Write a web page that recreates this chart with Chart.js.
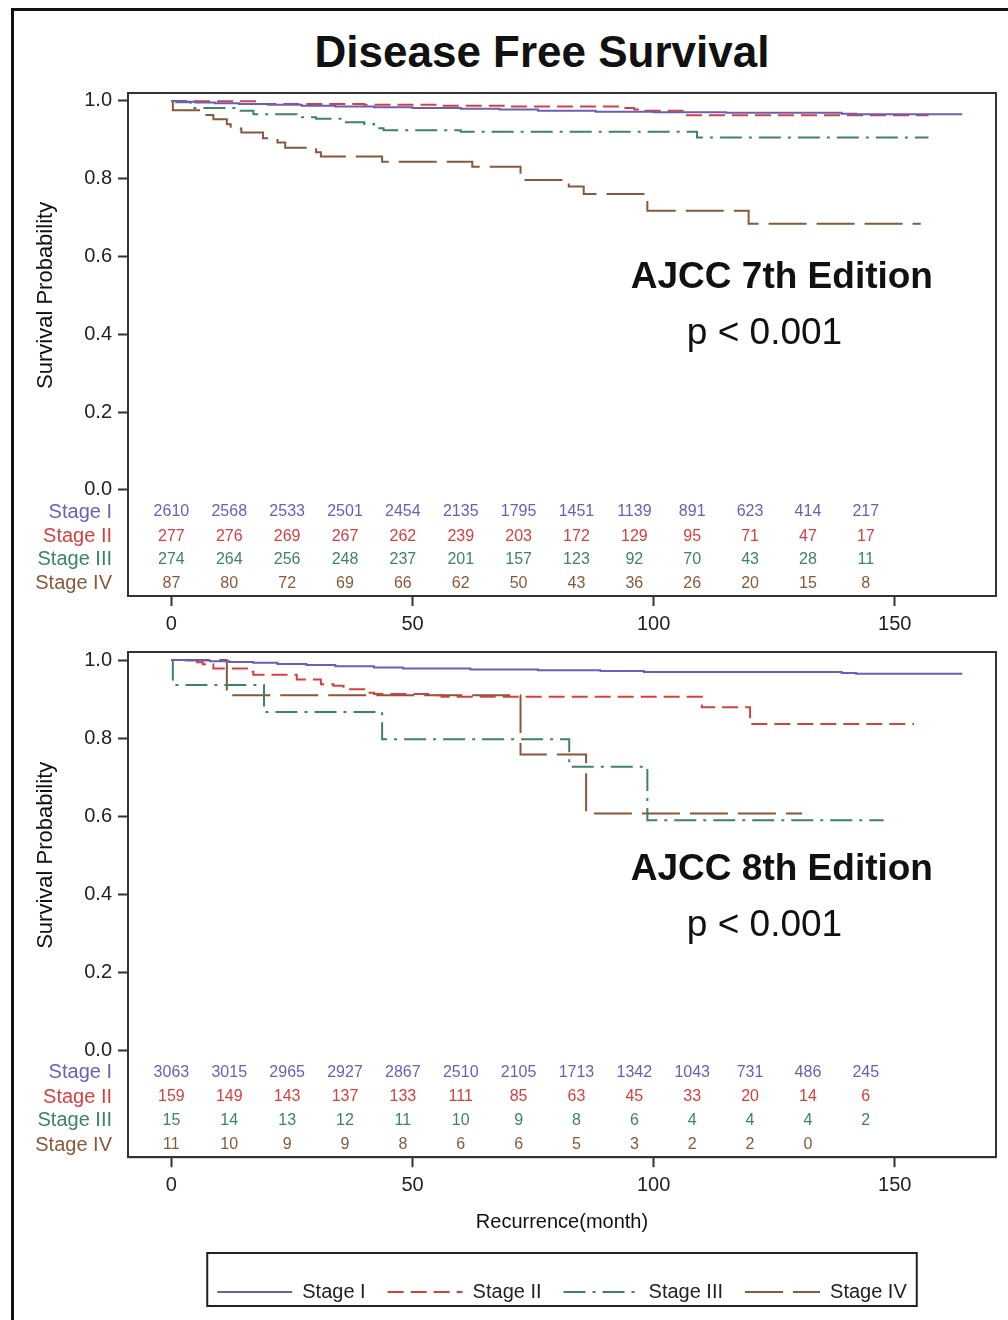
<!DOCTYPE html>
<html>
<head>
<meta charset="utf-8">
<script src="https://cdn.jsdelivr.net/npm/chart.js@4.4.1/dist/chart.umd.min.js"></script>
<style>
  body { margin: 0; background: #fff; }
  #page { position: relative; width: 1008px; height: 1320px; overflow: hidden; background: #fff; }
  #frame { position: absolute; left: 11px; top: 8px; width: 1100px; height: 1400px;
           border-left: 3px solid #111; border-top: 3px solid #111; }
  #title { position: absolute; left: 0; top: 26px; width: 1084px; margin: 0; text-align: center;
           font: bold 44px/52px "Liberation Sans", Arial, sans-serif; color: #111; }
  .panel { position: absolute; left: 0; width: 1008px; }
</style>
</head>
<body>
<div id="page">
  <div id="frame"></div>
  <h1 id="title">Disease Free Survival</h1>
  <div class="panel" style="top:75px;height:566px"><canvas id="km7" width="1008" height="566"></canvas></div>
  <div class="panel" style="top:634px;height:700px"><canvas id="km8" width="1008" height="700"></canvas></div>
</div>
<script>
// ---- data ----
const stageNames = ["Stage I", "Stage II", "Stage III", "Stage IV"];
const xTickValues = [0, 50, 100, 150];
const yTickValues = [0, 0.2, 0.4, 0.6, 0.8, 1.0];
const riskTimes = [0, 12, 24, 36, 48, 60, 72, 84, 96, 108, 120, 132, 144];

// AJCC 7th edition, [month, survival]
const ajcc7StageI = [[0, 1.0], [2, 0.998], [5, 0.996], [9, 0.994], [14, 0.992], [20, 0.990], [27, 0.988],
  [34, 0.986], [42, 0.984], [50, 0.982], [60, 0.980], [68, 0.978], [76, 0.975], [88, 0.972],
  [100, 0.971], [115, 0.970], [139, 0.967], [142, 0.966], [164, 0.966]];
const ajcc7StageII = [[0, 1.0], [3, 0.999], [18, 0.992], [40, 0.990], [55, 0.988], [70, 0.986],
  [93, 0.982], [96, 0.978], [98, 0.975], [106, 0.963], [157, 0.963]];
const ajcc7StageIII = [[0, 1.0], [1, 0.997], [4, 0.982], [14, 0.975], [17, 0.966], [26, 0.958],
  [30, 0.954], [36, 0.945], [40, 0.941], [42, 0.930], [44, 0.925], [60, 0.921], [109, 0.906], [157, 0.906]];
const ajcc7StageIV = [[0, 1.0], [0.3, 0.976], [6, 0.964], [8.7, 0.953], [11.5, 0.940], [12.3, 0.929],
  [14.5, 0.919], [19, 0.904], [22, 0.893], [23.6, 0.880], [30, 0.868], [31, 0.857], [43.7, 0.844],
  [62.4, 0.831], [72.4, 0.797], [82.4, 0.780], [85.5, 0.761], [98.7, 0.718], [119.7, 0.684], [155.4, 0.684]];

const ajcc7RiskStageI = [2610, 2568, 2533, 2501, 2454, 2135, 1795, 1451, 1139, 891, 623, 414, 217];
const ajcc7RiskStageII = [277, 276, 269, 267, 262, 239, 203, 172, 129, 95, 71, 47, 17];
const ajcc7RiskStageIII = [274, 264, 256, 248, 237, 201, 157, 123, 92, 70, 43, 28, 11];
const ajcc7RiskStageIV = [87, 80, 72, 69, 66, 62, 50, 43, 36, 26, 20, 15, 8];

// AJCC 8th edition, [month, survival]
const ajcc8StageI = [[0, 1.0], [3, 0.999], [8, 0.997], [12, 0.995], [17, 0.993], [22, 0.990], [28, 0.987],
  [34, 0.984], [42, 0.981], [48, 0.978], [62, 0.976], [76, 0.974], [89, 0.972], [98, 0.969],
  [139, 0.967], [142, 0.965], [164, 0.965]];
const ajcc8StageII = [[0, 1.0], [5.3, 0.994], [6.5, 0.989], [8.7, 0.978], [15.7, 0.970], [17, 0.962],
  [26, 0.950], [31, 0.938], [33.6, 0.934], [35.7, 0.925], [40, 0.916], [42, 0.913], [54, 0.910],
  [56, 0.906], [110, 0.879], [120, 0.836], [154, 0.836]];
const ajcc8StageIII = [[0, 1.0], [0.3, 0.936], [19.2, 0.867], [43.7, 0.797], [82.5, 0.727], [98.7, 0.590], [147.7, 0.590]];
const ajcc8StageIV = [[0, 1.0], [11.5, 0.910], [72.4, 0.758], [86, 0.607], [130.8, 0.607]];

const ajcc8RiskStageI = [3063, 3015, 2965, 2927, 2867, 2510, 2105, 1713, 1342, 1043, 731, 486, 245];
const ajcc8RiskStageII = [159, 149, 143, 137, 133, 111, 85, 63, 45, 33, 20, 14, 6];
const ajcc8RiskStageIII = [15, 14, 13, 12, 11, 10, 9, 8, 6, 4, 4, 4, 2];
const ajcc8RiskStageIV = [11, 10, 9, 9, 8, 6, 6, 5, 3, 2, 2, 0];

// ---- styles / layout ----
const FONT = '"Liberation Sans", Arial, sans-serif';
const stageColors = ["#6b5eb8", "#d6403f", "#3c8464", "#87593a"];
const stageDash = [[], [16, 7], [22, 7, 3, 7], [38, 10]];
const riskRowY = [-0.057, -0.119, -0.18, -0.242];

Chart.defaults.font.family = FONT;
Chart.defaults.color = "#222";

function rowIndex(v) {
  for (let i = 0; i < riskRowY.length; i++) if (Math.abs(riskRowY[i] - v) < 1e-6) return i;
  return -1;
}

var panelPlugin = {
  id: "panel",
  afterDraw: function (chart, args, opts) {
    var ctx = chart.ctx, a = chart.chartArea, x = chart.scales.x, y = chart.scales.y;
    ctx.save();
    ctx.strokeStyle = "#333";
    ctx.lineWidth = 2;
    ctx.strokeRect(a.left, a.top, a.right - a.left, a.bottom - a.top);

    // numbers at risk
    ctx.font = "16px " + FONT;
    ctx.textAlign = "center";
    ctx.textBaseline = "middle";
    opts.risk.forEach(function (row, r) {
      ctx.fillStyle = stageColors[r];
      row.forEach(function (n, i) {
        ctx.fillText(String(n), x.getPixelForValue(riskTimes[i]), y.getPixelForValue(riskRowY[r]));
      });
    });

    // edition + p value
    ctx.fillStyle = "#111";
    ctx.font = "bold 37px " + FONT;
    ctx.fillText(opts.edition, x.getPixelForValue(126.6), y.getPixelForValue(opts.editionY));
    ctx.font = "37px " + FONT;
    ctx.fillText("p < 0.001", x.getPixelForValue(123), y.getPixelForValue(opts.editionY - 0.144));

    // y axis title
    ctx.save();
    ctx.translate(46, y.getPixelForValue(0.5));
    ctx.rotate(-Math.PI / 2);
    ctx.font = "22px " + FONT;
    ctx.fillText("Survival Probability", 0, 0);
    ctx.restore();

    // legend frame
    if (opts.legendBox && chart.legend && chart.legend.legendHitBoxes.length) {
      var hb = chart.legend.legendHitBoxes;
      var l = hb[0].left - 10, r2 = hb[hb.length - 1].left + hb[hb.length - 1].width + 10;
      var b = hb[0].top + hb[0].height + 4;
      ctx.lineWidth = 2;
      ctx.strokeStyle = "#222";
      ctx.strokeRect(l, b - 53, r2 - l, 53);
    }
    ctx.restore();
  }
};

function makeDatasets(series) {
  return series.map(function (pts, i) {
    return {
      label: stageNames[i],
      data: pts.map(function (p) { return { x: p[0], y: p[1] }; }),
      borderColor: stageColors[i],
      backgroundColor: stageColors[i],
      borderDash: stageDash[i],
      borderWidth: 2,
      pointRadius: 0,
      stepped: "before",
      fill: false
    };
  });
}

function legendLabels(chart) {
  return Chart.defaults.plugins.legend.labels.generateLabels(chart).map(function (item, i) {
    item.lineDash = stageDash[i];
    item.lineWidth = 2;
    item.strokeStyle = stageColors[i];
    return item;
  });
}

function makeChart(id, series, risk, edition, editionY, bottomPanel) {
  return new Chart(document.getElementById(id), {
    type: "line",
    data: { datasets: makeDatasets(series) },
    options: {
      responsive: false,
      animation: false,
      layout: { padding: { top: 12, right: 12, left: 0, bottom: bottomPanel ? 22 : 0 } },
      plugins: {
        tooltip: { enabled: false },
        legend: {
          display: bottomPanel,
          position: "bottom",
          fullSize: false,
          title: { display: true, text: " ", padding: 0, font: { size: 10, lineHeight: 1.28 } },
          labels: {
            usePointStyle: true,
            pointStyle: "line",
            pointStyleWidth: 75,
            font: { size: 20 },
            color: "#222",
            padding: 22,
            generateLabels: legendLabels
          }
        },
        panel: { risk: risk, edition: edition, editionY: editionY, legendBox: bottomPanel }
      },
      scales: {
        x: {
          type: "linear",
          min: -9,
          max: 171,
          afterBuildTicks: function (s) { s.ticks = xTickValues.map(function (v) { return { value: v }; }); },
          afterFit: function (s) { s.height = bottomPanel ? 90 : 45; },
          ticks: { font: { size: 20 }, color: "#222", padding: 6, maxRotation: 0, autoSkip: false },
          grid: { drawOnChartArea: false, tickLength: 10, tickColor: "#333", tickWidth: 2 },
          border: { color: "#333", width: 2 },
          title: {
            display: bottomPanel,
            text: "Recurrence(month)",
            font: { size: 20 },
            color: "#111",
            padding: { top: 0, bottom: 13 }
          }
        },
        y: {
          type: "linear",
          min: -0.273,
          max: 1.0205,
          afterBuildTicks: function (s) {
            s.ticks = riskRowY.concat(yTickValues).map(function (v) { return { value: v }; });
          },
          afterFit: function (s) { s.width = 128; },
          ticks: {
            autoSkip: false,
            padding: 6,
            font: { size: 20 },
            callback: function (v) {
              var r = rowIndex(v);
              return r >= 0 ? stageNames[r] : v.toFixed(1);
            },
            color: function (c) {
              var r = rowIndex(c.tick.value);
              return r >= 0 ? stageColors[r] : "#222";
            }
          },
          grid: {
            drawOnChartArea: false,
            tickLength: 10,
            tickWidth: 2,
            tickColor: function (c) { return rowIndex(c.tick.value) >= 0 ? "rgba(0,0,0,0)" : "#333"; }
          },
          border: { color: "#333", width: 2 }
        }
      }
    },
    plugins: [panelPlugin]
  });
}

makeChart("km7", [ajcc7StageI, ajcc7StageII, ajcc7StageIII, ajcc7StageIV],
  [ajcc7RiskStageI, ajcc7RiskStageII, ajcc7RiskStageIII, ajcc7RiskStageIV], "AJCC 7th Edition", 0.544, false);
makeChart("km8", [ajcc8StageI, ajcc8StageII, ajcc8StageIII, ajcc8StageIV],
  [ajcc8RiskStageI, ajcc8RiskStageII, ajcc8RiskStageIII, ajcc8RiskStageIV], "AJCC 8th Edition", 0.464, true);
</script>
</body>
</html>
